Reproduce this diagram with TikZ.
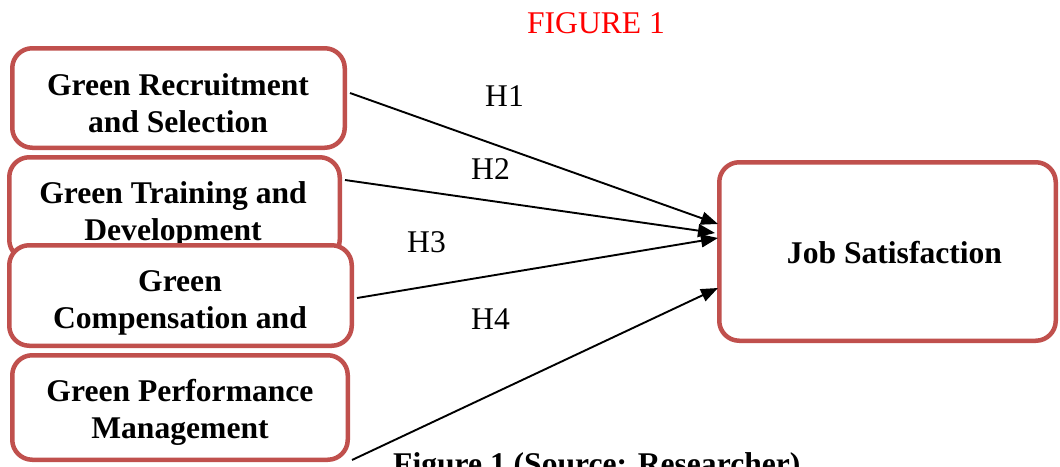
\documentclass[tikz,border=0pt]{standalone}
\usepackage{fontspec}
\setmainfont{Liberation Serif}
\usetikzlibrary{arrows.meta}
\definecolor{boxred}{RGB}{192,80,77}
\begin{document}
\begin{tikzpicture}[x=1pt,y=-1pt,
  box/.style={draw=boxred, line width=4.5pt, rounded corners=20pt, fill=white, inner sep=0pt},
  lbl/.style={font=\fontsize{31.6}{37}\selectfont\bfseries, align=center, anchor=base, inner sep=0pt},
  hyp/.style={font=\fontsize{31.6}{37}\selectfont, anchor=base west, inner sep=0pt},
  link/.style={line width=1.9pt, -{Triangle[length=17pt,width=13pt]}}]
\useasboundingbox (0,0) rectangle (1060,466);
\node[font=\fontsize{31.6}{37}\selectfont, text=red, anchor=base, inner sep=0pt] (title) at (596,33) {FIGURE 1};
% boxes (text anchored at the baseline of its last line)
\node[box, minimum width=332.5pt, minimum height=99.5pt] (b1) at (178.5,98) {};
\node[lbl] (t1) at (178,132) {Green Recruitment\\and Selection};
\node[box, minimum width=330.5pt, minimum height=102.5pt] (b2) at (174.5,208.5) {};
\node[lbl] (t2) at (173,240) {Green Training and\\Development};
\node[box, minimum width=342.5pt, minimum height=100.5pt] (b3) at (180.5,295.5) {};
\node[lbl] (t3) at (180,328) {Green\\Compensation and};
\node[box, minimum width=335.5pt, minimum height=104.5pt] (b4) at (180,407.5) {};
\node[lbl] (t4) at (180,438) {Green Performance\\Management};
\node[box, minimum width=336.5pt, minimum height=178.5pt] (js) at (887.5,251.5) {};
\node[lbl] (tj) at (894.5,263) {Job Satisfaction};
% connectors
\coordinate (s1) at (350,93);
\coordinate (s2) at (345,180);
\coordinate (s3) at (357,298);
\coordinate (s4) at (352,460);
\coordinate (e1) at (718,224);
\coordinate (e2) at (715,233);
\coordinate (e3) at (718,238);
\coordinate (e4) at (718,288);
\draw[link] (s1) -- (e1);
\draw[link] (s2) -- (e2);
\draw[link] (s3) -- (e3);
\draw[link] (s4) -- (e4);
\node[hyp] (h1) at (485,106) {H1};
\node[hyp] (h2) at (471,179) {H2};
\node[hyp] (h3) at (407,252) {H3};
\node[hyp] (h4) at (471,329) {H4};
\node[font=\fontsize{31.6}{37}\selectfont\bfseries, anchor=base west, inner sep=0pt] (cap) at (393,474) {Figure 1 (Source: Researcher)};
\end{tikzpicture}
\end{document}
